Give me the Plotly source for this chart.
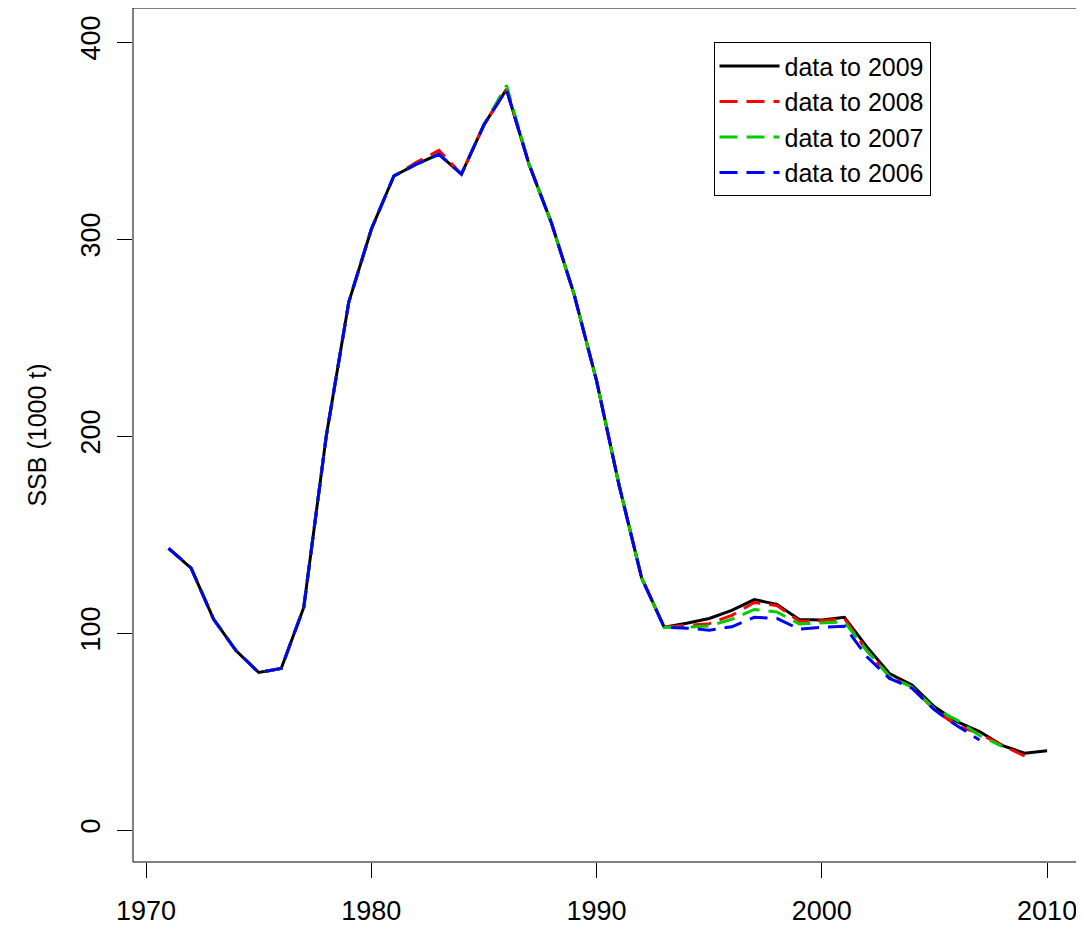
import plotly.graph_objects as go

years = list(range(1971, 2011))
early = [143, 133, 107, 91, 80, 82, 113, 200, 268, 305, 332, 338, 343, 333, 358, 376,
         338, 308, 272, 228, 175, 128, 103]
ssb2009 = early + [105, 107.4, 111.5, 117, 114.6, 106.9, 106.6, 108, 93, 79.5, 73.6, 62.6, 55, 50, 43, 39, 40.3]
ssb2008 = early[:11] + [339, 345] + early[13:] + [104, 104.8, 109, 115.5, 114, 106, 106.3, 107.5, 91, 78, 72.7, 61, 53, 49, 43, 37.6]
ssb2007 = early[:15] + [378] + early[16:] + [103, 103.6, 107, 112, 110.7, 104.6, 105, 105.7, 91, 78, 72.5, 61.5, 55.8, 48, 42.5]
ssb2006 = early + [102.5, 101.5, 103.2, 108, 107.5, 102, 103, 103.5, 88, 77, 72, 61, 53, 45.7]

series = [("data to 2009", ssb2009, "black", "solid"),
          ("data to 2008", ssb2008, "red", "18px,9px"),
          ("data to 2007", ssb2007, "#00CD00", "18px,9px"),
          ("data to 2006", ssb2006, "blue", "18px,9px")]

fig = go.Figure()
for name, vals, col, dash in series:
    fig.add_trace(go.Scatter(x=years[:len(vals)], y=vals, mode="lines", name=name,
                             line=dict(color=col, width=3, dash=dash)))

font = dict(family="Liberation Sans, Arial, sans-serif", size=27, color="black")
lfont = dict(family="Liberation Sans, Arial, sans-serif", size=25, color="black")
fig.update_layout(
    width=1076, height=927, autosize=False, plot_bgcolor="white", paper_bgcolor="white",
    margin=dict(l=125, r=4, t=0, b=73, autoexpand=False), font=font,
    xaxis=dict(range=[1969.42, 2011.46], tickvals=[1970, 1980, 1990, 2000, 2010],
               ticks="outside", ticklen=15, tickwidth=1, tickcolor="black",
               ticklabelstandoff=10,
               showgrid=False, zeroline=False, showline=False, tickfont=font),
    yaxis=dict(range=[-16.2, 417.3], tickvals=[0, 100, 200, 300, 400],
               ticks="outside", ticklen=15, tickwidth=1, tickcolor="black", tickangle=-90,
               ticklabelstandoff=6,
               showgrid=False, zeroline=False, showline=False, tickfont=font,
               title=dict(text="SSB (1000 t)", font=lfont, standoff=22)),
    legend=dict(x=0.613, y=0.96, xanchor="left", yanchor="top", bordercolor="black",
                borderwidth=1, bgcolor="white", font=lfont, itemwidth=60,
                tracegroupgap=0, tracegroupgap_=None) if False else
           dict(x=0.613, y=0.96, xanchor="left", yanchor="top", bordercolor="black",
                borderwidth=1, bgcolor="white", font=lfont, itemwidth=60),
    showlegend=True,
)
fig.add_shape(type="rect", xref="paper", yref="paper", x0=0, x1=1, y0=0, y1=1,
              line=dict(color="black", width=1))
fig.write_html("out.html")
